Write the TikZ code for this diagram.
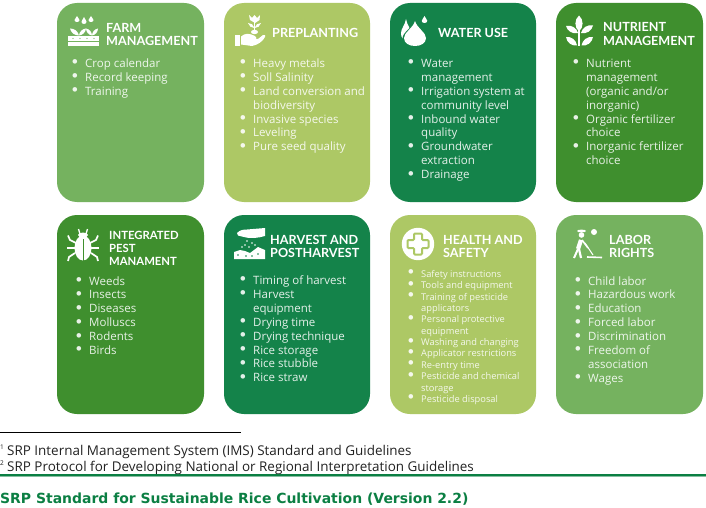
\documentclass[tikz,border=0pt]{standalone}
\usepackage{fontspec}
\setmainfont{Open Sans}
\newfontfamily\headfont{Lato}
\newfontfamily\titlefont{DejaVu Sans}
\usetikzlibrary{calc}
\definecolor{cfarm}{HTML}{75B25F}
\definecolor{cpre}{HTML}{ADC865}
\definecolor{cwater}{HTML}{14834A}
\definecolor{cnut}{HTML}{3F8F2E}
\definecolor{ctitle}{HTML}{0B7F43}
\definecolor{cfoot}{HTML}{222222}
\newcommand\bl{\makebox[0pt][r]{\raisebox{1.6pt}{\headfont\fontsize{12.3}{12.3}\selectfont\textbullet}\hspace{6.8pt}}}
\newcommand\lnsz{\fontsize{11.5}{13.9}\selectfont}
\newcommand\smsz{\fontsize{9.3}{11.35}\selectfont}
\newcommand\itemsbox[2]{\parbox[t]{125pt}{\raggedright #1\relax #2}}
\newcommand\leaf[3][38]{\fill[white] (#2) to[bend left=#1] (#3) to[bend left=#1] (#2) -- cycle;}
\tikzset{
  x=1pt,y=-1pt,
  card/.style={rounded corners=20pt,fill=#1,draw=none},
  head/.style={anchor=base west,inner sep=0pt,text=white,font=\headfont\bfseries\fontsize{12.6}{12.6}\selectfont,align=left},
  body/.style={anchor=base west,inner sep=0pt,text=white!88!#1},
  foot/.style={anchor=base west,inner sep=0pt,text=cfoot,font=\fontsize{13.45}{13.45}\selectfont},
  sup/.style={anchor=base west,inner sep=0pt,text=cfoot,font=\fontsize{6.5}{6.5}\selectfont},
  drop/.pic={\fill (0,0) .. controls (0.1,0.3) and (0.5,0.45) .. (0.5,0.68) .. controls (0.5,0.88) and (0.28,1) .. (0,1) .. controls (-0.28,1) and (-0.5,0.88) .. (-0.5,0.68) .. controls (-0.5,0.45) and (-0.1,0.3) .. (0,0) -- cycle;}
}
\begin{document}
\begin{tikzpicture}
\useasboundingbox (0,0) rectangle (706,508);
\fill[white] (0,0) rectangle (706,508);
% cards
\fill[card=cfarm] (57,3) rectangle (204,202);
\fill[card=cpre] (224,3) rectangle (370,202);
\fill[card=cwater] (390,3) rectangle (536,202);
\fill[card=cnut] (556,3) rectangle (703,202);
\fill[card=cnut] (57,215) rectangle (204,414);
\fill[card=cwater] (224,215) rectangle (370,414);
\fill[card=cpre] (390,215) rectangle (536,414);
\fill[card=cfarm] (556,215) rectangle (703,414);
% titles
\node[head] (t1a) at (106,32.5) {FARM};
\node[head] (t1b) at (106,45.5) {MANAGEMENT};
\node[head] (t2) at (272,37.5) {PREPLANTING};
\node[head] (t3) at (438,37.5) {WATER USE};
\node[head] (t4a) at (603,32) {NUTRIENT};
\node[head] (t4b) at (603,45.5) {MANAGEMENT};
\node[head,font=\headfont\bfseries\fontsize{11.3}{11.3}\selectfont] (t5a) at (109,239.5) {INTEGRATED};
\node[head,font=\headfont\bfseries\fontsize{11.3}{11.3}\selectfont] (t5b) at (109,252.5) {PEST};
\node[head,font=\headfont\bfseries\fontsize{11.3}{11.3}\selectfont] (t5c) at (109,265) {MANAMENT};
\node[head] (t6a) at (270,244.5) {HARVEST AND};
\node[head] (t6b) at (270,257.5) {POSTHARVEST};
\node[head] (t7a) at (443,244.5) {HEALTH AND};
\node[head] (t7b) at (443,257.5) {SAFETY};
\node[head] (t8a) at (609,244.5) {LABOR};
\node[head] (t8b) at (609,257.5) {RIGHTS};
% lists
\node[body=cfarm] (l1) at (85,67.5) {\itemsbox{\lnsz}{\bl Crop calendar\\\bl Record keeping\\\bl Training}};
\node[body=cpre] (l2) at (253,67.5) {\itemsbox{\lnsz}{\bl Heavy metals\\\bl Soll Salinity\\\bl Land conversion and\\biodiversity\\\bl Invasive species\\\bl Leveling\\\bl Pure seed quality}};
\node[body=cwater] (l3) at (421,67.5) {\itemsbox{\lnsz}{\bl Water\\management\\\bl Irrigation system at\\community level\\\bl Inbound water\\quality\\\bl Groundwater\\extraction\\\bl Drainage}};
\node[body=cnut] (l4) at (586,67.5) {\itemsbox{\lnsz}{\bl Nutrient\\management\\(organic and/or\\inorganic)\\\bl Organic fertilizer\\choice\\\bl Inorganic fertilizer\\choice}};
\node[body=cnut] (l5) at (89,285) {\itemsbox{\lnsz}{\bl Weeds\\\bl Insects\\\bl Diseases\\\bl Molluscs\\\bl Rodents\\\bl Birds}};
\node[body=cwater] (l6) at (253,284.5) {\itemsbox{\lnsz}{\bl Timing of harvest\\\bl Harvest\\equipment\\\bl Drying time\\\bl Drying technique\\\bl Rice storage\\\bl Rice stubble\\\bl Rice straw}};
\node[body=cpre] (l7) at (421,277.5) {\itemsbox{\smsz}{\bl Safety instructions\\\bl Tools and equipment\\\bl Training of pesticide\\applicators\\\bl Personal protective\\equipment\\\bl Washing and changing\\\bl Applicator restrictions\\\bl Re-entry time\\\bl Pesticide and chemical\\storage\\\bl Pesticide disposal}};
\node[body=cfarm] (l8) at (588,285) {\itemsbox{\lnsz}{\bl Child labor\\\bl Hazardous work\\\bl Education\\\bl Forced labor\\\bl Discrimination\\\bl Freedom of\\association\\\bl Wages}};
% footer
\fill[black] (0,431.5) rectangle (241,432.5);
\node[sup] (s1) at (0,449) {1};
\node[foot] (f1) at (7,455) {SRP Internal Management System (IMS) Standard and Guidelines};
\node[sup] (s2) at (0,465) {2};
\node[foot] (f2) at (7,471) {SRP Protocol for Developing National or Regional Interpretation Guidelines};
\fill[ctitle] (0,474.2) rectangle (706,476);
\fill[ctitle!50] (0,476) rectangle (706,476.8);
\node[anchor=base west,inner sep=0pt,text=ctitle,font=\titlefont\bfseries\fontsize{13.95}{14}\selectfont] (ft) at (0,503.5) {SRP Standard for Sustainable Rice Cultivation (Version 2.2)};
% icon: farm
\pic[white,xscale=5,yscale=6] at (77,16) {drop};
\pic[white,xscale=5,yscale=7] at (84,17) {drop};
\pic[white,xscale=5,yscale=6] at (91,16) {drop};
\leaf{79,35.5}{70,28.5}
\leaf{79,35.5}{86,28.5}
\leaf{92,35.5}{86,28.5}
\leaf{92,35.5}{98,28.5}
\fill[white] (68,36) rectangle (99,46);
\fill[cfarm] (68,41) rectangle (99,42);
\foreach \dx in {73,80,87,94} \fill[cfarm] (\dx,38.5) circle (0.7);
% icon: preplanting
\fill[white] (235,35) rectangle (240,46);
\fill[white] (241,36.5) .. controls (245,33) and (249,33) .. (255,36) .. controls (257,37) and (257,39) .. (254,39) -- (258,39) -- (263,35) .. controls (265,34) and (266,36) .. (265,37) .. controls (263,41) and (258,45) .. (252,46) -- (241,44.5) -- cycle;
\fill[white] (253.8,20) rectangle (255.2,34);
\fill[white] (249,15) -- (252,18) -- (254.5,15) -- (257,18) -- (260,15) -- (259.5,20) -- (255,23) -- (250,20) -- cycle;
\leaf{254.5,28}{248,23}
\leaf{254.5,28}{261,23}
\fill[white] (254.5,32) ellipse (3.5 and 2.2);
% icon: water
\pic[white,xscale=10,yscale=21] at (406,19) {drop};
\pic[cwater,xscale=25,yscale=28] at (415,19.5) {drop};
\pic[white,xscale=22,yscale=25] at (415,21) {drop};
\pic[white,xscale=5.5,yscale=7] at (424.5,16) {drop};
% icon: nutrient
\fill[white] (578.3,30) rectangle (579.8,46);
\leaf[50]{579,15.5}{579,31.5}
\leaf[45]{578,33}{566,26}
\leaf[45]{581,33}{593,25.5}
\leaf[45]{577,45.5}{566,37}
\leaf[45]{581.5,45.5}{593,37}
% icon: bug
\fill[white] (83,248) ellipse (8.5 and 12.5);
\fill[cnut] (82.6,239) rectangle (83.4,262);
\fill[white] (83,235) ellipse (5 and 2.5);
\draw[white,line width=1.7] (76,243)--(70,240)--(68,235.5);
\draw[white,line width=1.7] (67,248)--(75,248);
\draw[white,line width=1.7] (75,253)--(69,257)--(68,261);
\draw[white,line width=1.7] (90,243)--(96,240)--(98,235.5);
\draw[white,line width=1.7] (99,248)--(91,248);
\draw[white,line width=1.7] (91,253)--(97,257)--(98,261);
\draw[white,line width=1.3] (78.5,229)--(80,234);
\draw[white,line width=1.3] (87.5,229)--(86,234);
% icon: harvest
\fill[white] (237,233) .. controls (240,230) and (243,229.5) .. (247,229.5) -- (265,228) -- (265,236) .. controls (258,238) and (250,239) .. (244,237) -- (238,235.5) -- cycle;
\fill[white] (234,252) -- (240,250) -- (245,251) -- (250,253) -- (258,247) -- (265,250) -- (265,259) -- (234,259) -- cycle;
\foreach \sx/\sy in {247/241,252/243,245/245,249/247,255/245,242/247}
  \fill[white] (\sx,\sy) circle (0.9);
\foreach \sx/\sy in {238/255,246/256,258/254,252/256}
  \fill[cwater] (\sx,\sy) circle (0.8);
% icon: health
\fill[white] (418,244) circle (16.2);
\draw[cpre,fill=white,line width=2,rounded corners=1] (414,233.5) -- (422,233.5) -- (422,240) -- (428.5,240) -- (428.5,248) -- (422,248) -- (422,254.5) -- (414,254.5) -- (414,248) -- (407.5,248) -- (407.5,240) -- (414,240) -- cycle;
% icon: labor
\fill[white] (581.5,231) ellipse (4.5 and 1.4);
\fill[white] (581.5,235) circle (2.8);
\draw[white,line width=4.2] (581,240)--(578,249);
\draw[white,line width=2] (578,249)--(574,258);
\draw[white,line width=2.2] (579,249)--(581,258);
\draw[white,line width=1.6] (582,240)--(588,248);
\draw[white,line width=1] (585,243)--(593,255);
\draw[white,line width=1.6] (587,257)--(602,257.5);
\fill[white] (594,232) circle (3);
\end{tikzpicture}
\end{document}
